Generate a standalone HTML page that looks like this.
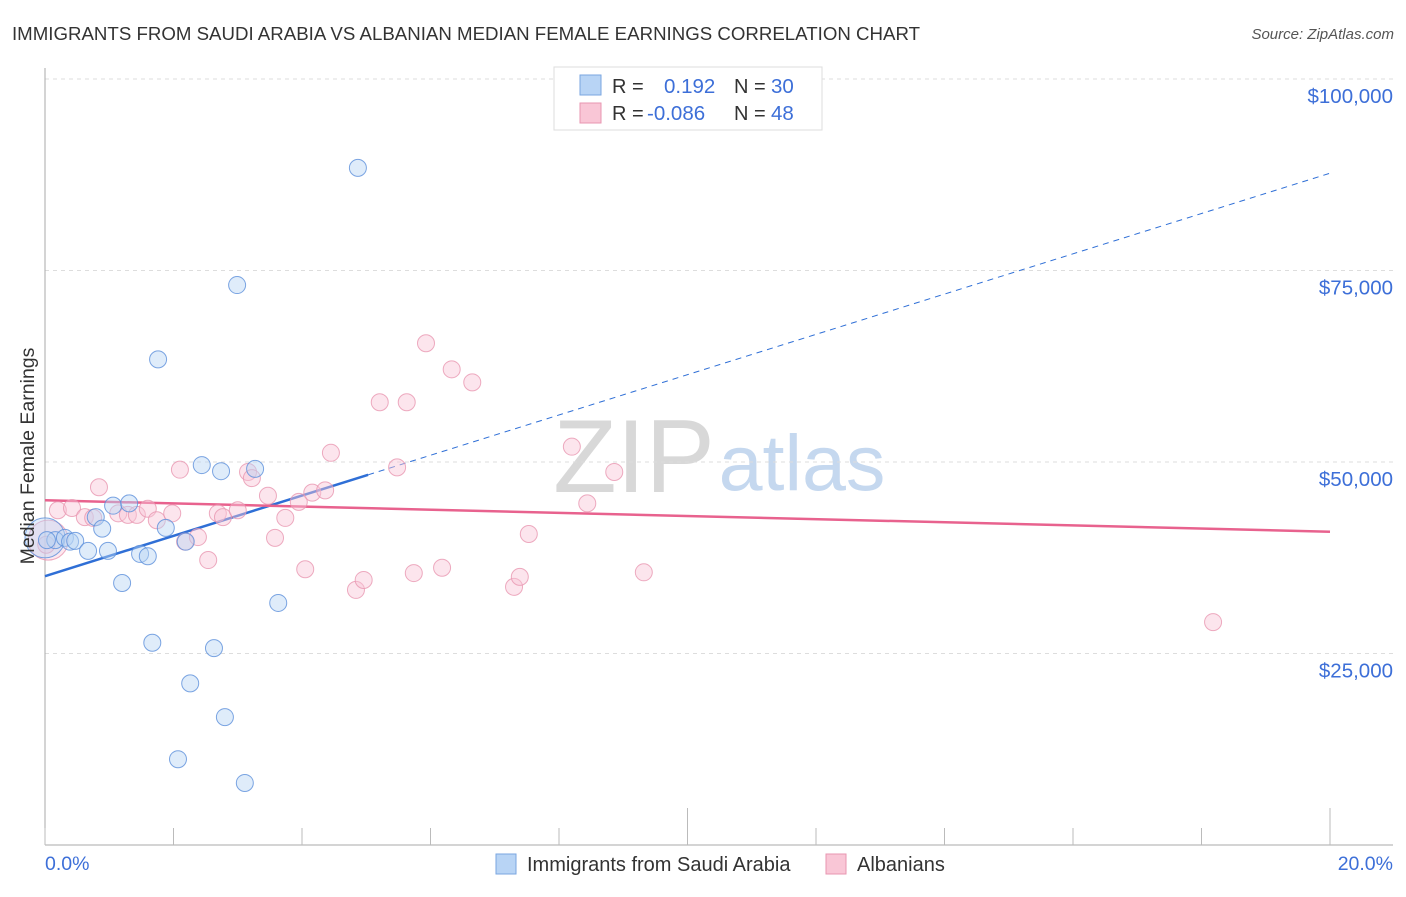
<!DOCTYPE html>
<html><head><meta charset="utf-8"><style>
body{margin:0;background:#fff;font-family:"Liberation Sans",sans-serif;}
svg text{font-family:"Liberation Sans",sans-serif;}
</style></head><body>
<svg id="chart" width="1406" height="892" viewBox="0 0 1406 892" xmlns="http://www.w3.org/2000/svg">
<text x="12" y="40" font-size="18" fill="#333" textLength="908" lengthAdjust="spacingAndGlyphs">IMMIGRANTS FROM SAUDI ARABIA VS ALBANIAN MEDIAN FEMALE EARNINGS CORRELATION CHART</text>
<text x="1394" y="39" font-size="15" fill="#555" font-style="italic" text-anchor="end">Source: ZipAtlas.com</text>
<g>
<text x="634" y="492" font-size="104" fill="#d8d8d8" font-family="Liberation Serif" text-anchor="middle">ZIP</text>
<text x="802" y="490" font-size="79" fill="#c5d8ef" text-anchor="middle">atlas</text>
</g>
<g id="grid"></g>
<g id="axes"></g>
<g id="trend"></g>
<g id="points"></g>
<text transform="translate(34,456) rotate(-90)" font-size="19.5" fill="#333" text-anchor="middle">Median Female Earnings</text>
<g>
<rect x="554" y="67" width="268" height="63" fill="#fff" stroke="#ddd"/>
<rect x="580" y="75" width="21" height="20" fill="#b8d4f5" stroke="#7aa6e0"/>
<rect x="580" y="103" width="21" height="20" fill="#f9c6d6" stroke="#e896b0"/>
<text x="612" y="93" font-size="20" fill="#333">R =</text>
<text x="664" y="93" font-size="20.5" fill="#3d6fd8">0.192</text>
<text x="734" y="93" font-size="20" fill="#333">N =</text>
<text x="771" y="93" font-size="20.5" fill="#3d6fd8">30</text>
<text x="612" y="120" font-size="20" fill="#333">R =</text>
<text x="647" y="120" font-size="20.5" fill="#3d6fd8">-0.086</text>
<text x="734" y="120" font-size="20" fill="#333">N =</text>
<text x="771" y="120" font-size="20.5" fill="#3d6fd8">48</text>
</g>
<g>
<rect x="496" y="854" width="20" height="20" fill="#b8d4f5" stroke="#7aa6e0"/>
<text x="527" y="871" font-size="20" fill="#333">Immigrants from Saudi Arabia</text>
<rect x="826" y="854" width="20" height="20" fill="#f9c6d6" stroke="#e896b0"/>
<text x="857" y="871" font-size="20" fill="#333">Albanians</text>
</g>
</svg>
<script>
const xTickLabels=["0.0%","20.0%"];
const yTicks=[25000,50000,75000,100000];
const yTickLabels=["$25,000","$50,000","$75,000","$100,000"];
const blueX=[0,0.16,0.31,0.39,0.47,0.67,0.79,0.89,0.98,1.06,1.2,1.31,1.48,1.6,1.67,1.76,1.88,2.07,2.19,2.26,2.44,2.63,2.74,2.8,2.99,3.11,3.27,3.63,4.87,0.03];
const blueY=[40.1,39.8,40.1,39.6,39.7,38.4,42.8,41.3,38.4,44.3,34.2,44.6,38.0,37.7,26.4,63.4,41.4,11.2,39.6,21.1,49.6,25.7,48.8,16.7,73.1,8.1,49.1,31.6,88.4,39.8];
const pinkX=[0.05,0.2,0.42,0.62,0.84,0.75,1.14,1.29,1.43,1.6,1.74,1.98,2.1,2.18,2.38,2.54,2.69,2.77,3.0,3.16,3.22,3.47,3.58,3.74,3.95,4.05,4.16,4.36,4.45,4.84,4.96,5.21,5.48,5.63,5.74,5.93,6.18,6.33,6.65,7.3,7.39,7.53,8.2,8.44,8.86,9.32,18.18,0.02];
const pinkY=[39.8,43.7,44.0,42.8,46.7,42.7,43.3,43.1,43.1,43.9,42.4,43.3,49.0,39.6,40.2,37.2,43.3,42.8,43.7,48.7,47.9,45.6,40.1,42.7,44.8,36.0,46.0,46.3,51.2,33.3,34.6,57.8,49.3,57.8,35.5,65.5,36.2,62.1,60.4,33.7,35.0,40.6,52.0,44.6,48.7,35.6,29.1,39.2];
const blueTrend=[35.1,87.7];const blueSolidEnd=5.03;
const pinkTrend=[45.0,40.9];
const NS="http://www.w3.org/2000/svg";
const X=v=>45+v/20*1285;
const Y=k=>845-k*7.66;
function mk(tag,attrs,parent){const e=document.createElementNS(NS,tag);for(const k in attrs)e.setAttribute(k,attrs[k]);parent.appendChild(e);return e;}
const grid=document.getElementById('grid'),axes=document.getElementById('axes'),trend=document.getElementById('trend'),pts=document.getElementById('points');
yTicks.forEach((t,i)=>{
 const l=mk('line',{x1:45,x2:1393,y1:Y(t/1000),y2:Y(t/1000),stroke:'#ddd','stroke-dasharray':'4,4'},grid);
 
 
 const tx=mk('text',{x:1393,y:Y(t/1000)+24,'font-size':20.5,fill:'#3d6fd8','text-anchor':'end'},axes);
 tx.textContent=yTickLabels[i];
 
 
});
const ya=mk('line',{x1:45,x2:45,y1:68,y2:845,stroke:'#aaa'},axes);


const xa=mk('line',{x1:45,x2:1393,y1:845,y2:845,stroke:'#aaa'},axes);


for(let i=0;i<=10;i++){
 const top=(i==5||i==10)?808:828;
 const t=mk('line',{x1:X(i*2),x2:X(i*2),y1:top,y2:845,stroke:'#bbb'},axes);
 
 
}
const xl0=mk('text',{x:45,y:870,'font-size':19.5,fill:'#3d6fd8'},axes);xl0.textContent=xTickLabels[0];


const xl1=mk('text',{x:1393,y:870,'font-size':19.5,fill:'#3d6fd8','text-anchor':'end'},axes);xl1.textContent=xTickLabels[1];


function drawPts(xs,ys,fill,stroke,name){
 xs.forEach((x,i)=>{
  const big=(i==0);
  const c=mk('circle',{cx:X(x),cy:Y(ys[i]),r:big?20:8.5,fill:fill,'fill-opacity':big?0.4:0.45,stroke:stroke,'stroke-width':1,'stroke-opacity':0.8},pts);
  
  
 });
}
drawPts(pinkX,pinkY,'#f9c6d6','#e896b0','albanians-point');
drawPts(blueX,blueY,'#b8d4f5','#5b8fdb','saudi-point');
const yb=x=>blueTrend[0]+(blueTrend[1]-blueTrend[0])*x/20;
const b1=mk('line',{x1:X(0),y1:Y(yb(0)),x2:X(blueSolidEnd),y2:Y(yb(blueSolidEnd)),stroke:'#2f6fd6','stroke-width':2.5},trend);


const b2=mk('line',{x1:X(blueSolidEnd),y1:Y(yb(blueSolidEnd)),x2:X(20),y2:Y(yb(20)),stroke:'#2f6fd6','stroke-width':1,'stroke-dasharray':'6,5'},trend);


const p1=mk('line',{x1:X(0),y1:Y(pinkTrend[0]),x2:X(20),y2:Y(pinkTrend[1]),stroke:'#e8628e','stroke-width':2.5},trend);


</script>
</body></html>
